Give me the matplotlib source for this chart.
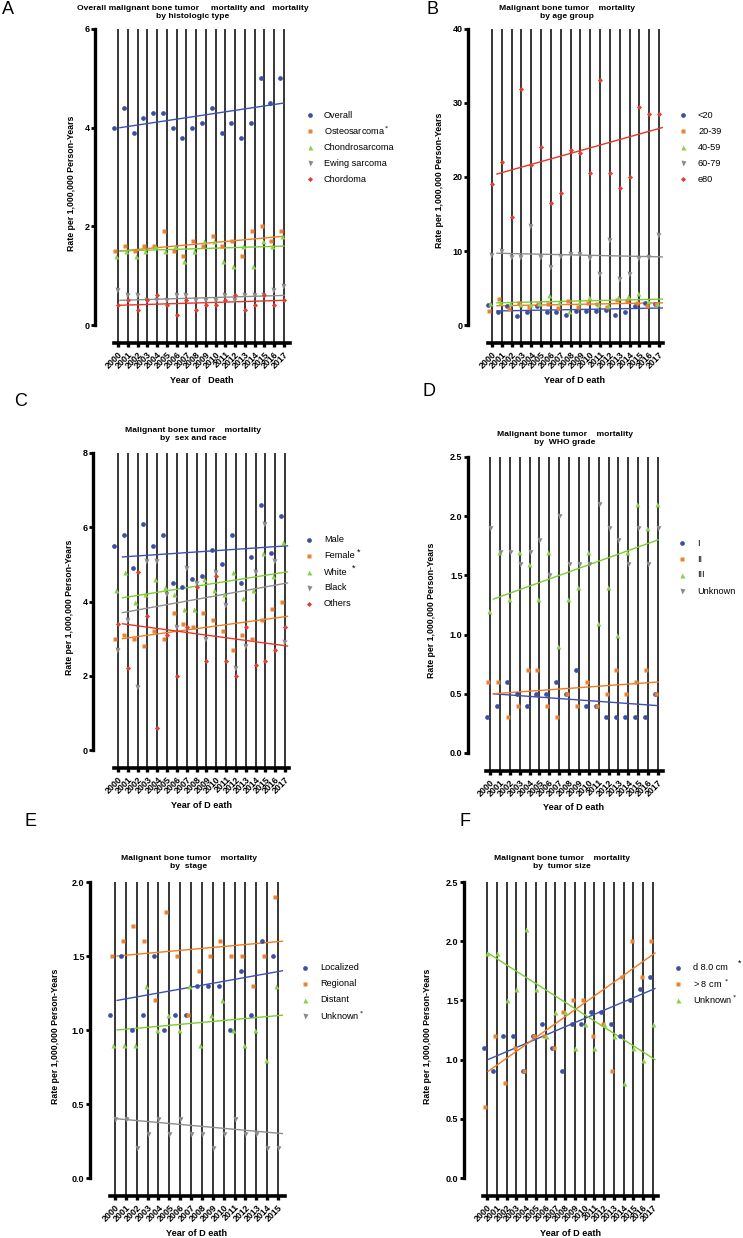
import numpy as np
import matplotlib
matplotlib.use('Agg')
import matplotlib.pyplot as plt
from matplotlib.lines import Line2D

plt.rcParams['font.family'] = ['Liberation Sans', 'DejaVu Sans']

W, H = 743, 1238

years_full = [str(y) for y in range(2000, 2018)]
years_stage = [str(y) for y in range(2000, 2016)]

# ---------------- Panel A: histologic type ----------------
a_labels = ['Overall', 'Osteosarcoma$^*$', 'Chondrosarcoma', 'Ewing sarcoma', 'Chordoma']
a_overall = [4.0, 4.4, 3.9, 4.2, 4.3, 4.3, 4.0, 3.8, 4.0, 4.1, 4.4, 3.9, 4.1, 3.8, 4.1, 5.0, 4.5, 5.0]
a_osteo = [1.5, 1.6, 1.5, 1.6, 1.6, 1.9, 1.5, 1.4, 1.7, 1.6, 1.8, 1.6, 1.7, 1.4, 1.9, 2.0, 1.7, 1.9]
a_chondro = [1.4, 1.5, 1.4, 1.5, 1.6, 1.5, 1.6, 1.3, 1.5, 1.7, 1.7, 1.3, 1.2, 1.6, 1.2, 1.7, 1.6, 1.8]
a_ewing = [0.7, 0.6, 0.6, 0.5, 0.5, 0.5, 0.6, 0.6, 0.5, 0.5, 0.5, 0.6, 0.5, 0.6, 0.6, 0.6, 0.7, 0.8]
a_chordoma = [0.4, 0.5, 0.3, 0.5, 0.6, 0.4, 0.2, 0.5, 0.3, 0.4, 0.4, 0.5, 0.6, 0.3, 0.4, 0.6, 0.4, 0.5]
a_trend_start = [4.0, 1.5, 1.5, 0.5, 0.4]
a_trend_end = [4.5, 1.8, 1.6, 0.6, 0.5]

# ---------------- Panel B: age group ----------------
b_labels = ['<20', '20-39', '40-59', '60-79', 'e80']
b_lt20 = [2.7, 1.7, 2.6, 1.2, 1.8, 2.6, 1.7, 1.8, 1.4, 1.9, 1.9, 1.9, 2.0, 1.3, 1.7, 2.6, 3.0, 2.8]
b_20_39 = [1.9, 3.5, 2.1, 3.0, 2.4, 2.8, 2.9, 2.3, 3.3, 2.4, 3.0, 2.8, 2.4, 3.4, 3.2, 3.0, 2.6, 2.9]
b_40_59 = [3.0, 3.1, 3.0, 2.9, 2.8, 3.0, 4.1, 3.1, 1.9, 3.1, 3.8, 2.8, 2.7, 3.8, 3.9, 4.3, 3.2, 3.0]
b_60_79 = [9.5, 10.0, 9.2, 9.2, 13.4, 9.2, 7.9, 9.3, 9.6, 9.6, 9.1, 6.9, 11.5, 6.2, 6.9, 9.1, 9.2, 12.2]
b_ge80 = [19.0, 22.0, 14.6, 31.9, 21.6, 24.0, 16.5, 17.8, 23.7, 23.3, 20.5, 33.1, 20.5, 18.5, 20.0, 29.5, 28.5, 28.5]
b_trend_start = [1.9, 2.6, 3.0, 9.7, 20.4]
b_trend_end = [2.3, 3.0, 3.5, 9.2, 26.7]

# ---------------- Panel C: sex and race ----------------
c_labels = ['Male', 'Female', 'White', 'Black', 'Others']
c_male = [5.5, 5.8, 4.9, 6.1, 5.5, 5.8, 4.5, 4.4, 4.6, 4.7, 5.4, 5.0, 5.8, 4.5, 5.2, 6.6, 5.3, 6.3]
c_female = [3.0, 3.1, 3.0, 2.8, 3.2, 3.0, 3.7, 3.4, 3.3, 3.7, 3.5, 3.2, 2.7, 3.1, 3.0, 3.5, 3.8, 4.0]
c_white = [4.3, 4.8, 4.0, 4.2, 4.6, 4.4, 4.2, 3.8, 3.8, 4.6, 4.3, 4.2, 4.8, 4.1, 4.3, 5.3, 4.7, 5.6]
c_black = [2.7, 3.5, 1.7, 5.1, 5.1, 4.2, 3.3, 4.9, 4.5, 3.0, 4.8, 3.9, 2.2, 2.8, 4.8, 6.1, 5.1, 2.9]
c_others = [3.4, 2.2, 4.8, 3.6, 0.6, 3.1, 2.0, 3.3, 4.4, 2.4, 4.7, 2.4, 2.0, 3.3, 2.3, 2.4, 2.7, 3.3]
c_trend_start = [5.2, 3.0, 4.1, 3.7, 3.4]
c_trend_end = [5.5, 3.6, 4.8, 4.5, 2.8]

# ---------------- Panel D: WHO grade ----------------
d_labels = ['I', 'II', 'III', 'Unknown']
d_g1 = [0.3, 0.4, 0.6, 0.5, 0.4, 0.5, 0.5, 0.6, 0.5, 0.7, 0.4, 0.4, 0.3, 0.3, 0.3, 0.3, 0.3, 0.5]
d_g2 = [0.6, 0.6, 0.3, 0.4, 0.7, 0.7, 0.4, 0.3, 0.5, 0.4, 0.6, 0.4, 0.5, 0.7, 0.5, 0.6, 0.7, 0.5]
d_g3 = [1.2, 1.7, 1.3, 1.7, 1.6, 1.3, 1.7, 0.9, 1.3, 1.4, 1.7, 1.1, 1.4, 1.0, 1.7, 2.1, 1.9, 2.1]
d_unk = [1.9, 1.7, 1.7, 1.6, 1.7, 1.8, 1.5, 2.0, 1.6, 1.6, 1.6, 2.1, 1.9, 1.8, 1.6, 1.9, 1.6, 1.9]
d_trend_start = [0.5, 0.5, 1.3, None]
d_trend_end = [0.4, 0.6, 1.8, None]

# ---------------- Panel E: stage ----------------
e_labels = ['Localized', 'Regional', 'Distant', 'Unknown$^*$']
e_loc = [1.1, 1.5, 1.0, 1.1, 1.5, 1.0, 1.1, 1.1, 1.3, 1.3, 1.3, 1.0, 1.4, 1.1, 1.6, 1.5]
e_reg = [1.5, 1.6, 1.7, 1.6, 1.2, 1.8, 1.5, 1.1, 1.4, 1.5, 1.6, 1.5, 1.5, 1.3, 1.5, 1.9]
e_dist = [0.9, 0.9, 0.9, 1.3, 1.0, 1.1, 1.0, 1.3, 0.9, 1.1, 1.2, 1.0, 0.9, 1.0, 0.8, 1.3]
e_unk = [0.4, 0.4, 0.2, 0.3, 0.4, 0.3, 0.4, 0.3, 0.3, 0.2, 0.3, 0.4, 0.3, 0.3, 0.2, 0.2]
e_trend_start = [1.2, 1.5, 1.0, 0.4]
e_trend_end = [1.4, 1.6, 1.1, 0.3]

# ---------------- Panel F: tumor size ----------------
f_labels = ['d 8.0 cm', '> 8 cm $^*$', 'Unknown$^*$']
f_small = [1.1, 0.9, 1.2, 1.2, 0.9, 1.2, 1.3, 1.1, 0.9, 1.3, 1.3, 1.4, 1.4, 1.3, 1.2, 1.5, 1.6, 1.7]
f_large = [0.6, 1.2, 0.8, 1.1, 0.9, 1.2, 1.2, 1.1, 1.4, 1.5, 1.5, 1.2, 1.3, 0.9, 1.7, 2.0, 1.7, 2.0]
f_unk = [1.9, 1.9, 1.5, 1.6, 2.1, 1.6, 1.2, 1.4, 1.4, 1.1, 1.3, 1.1, 1.3, 1.2, 0.8, 1.1, 1.0, 1.3]
f_trend_start = [1.0, 0.9, 1.9]
f_trend_end = [1.6, 1.9, 1.0]

# ---------------- styles ----------------
BLUE = '#3E4FA3'
ORANGE = '#E98234'
GREEN = '#8CD04C'
GRAY = '#8A8A8A'
RED = '#E2402F'
T_BLUE = '#3B50B5'
T_ORANGE = '#F27B1F'
T_GREEN = '#7ACF2E'
T_GRAY = '#8E8E8E'
T_RED = '#E8352A'

COLS5 = [BLUE, ORANGE, GREEN, GRAY, RED]
TCOLS5 = [T_BLUE, T_ORANGE, T_GREEN, T_GRAY, T_RED]
MARK5 = ['o', 's', '^', 'v', 'D']
MS = {'o': 3.4, 's': 3.4, '^': 3.6, 'v': 3.6, 'D': 2.6}

fig = plt.figure(figsize=(W / 100, H / 100), dpi=100)


def fx(px):
    return px / W


def fy(py):
    return 1 - py / H


def panel(g, cats, data, labels, offs, tstart, tend, trange, ymax, yticks, yfmt,
          title, title_xy, ylab_xy, xlabel, xlab_xy, leg, letter, letter_xy):
    n = len(cats)
    s = (g['x1'] - g['x0']) / (n - 1)
    xl = (g['sx'] - g['x0']) / s
    xr = (g['brx'] - g['x0']) / s
    ypu = (g['yz'] - g['yt']) / ymax
    yb = -(g['yb'] - g['yz']) / ypu
    ax = fig.add_axes([fx(g['sx']), fy(g['yb']), (g['brx'] - g['sx']) / W,
                       (g['yb'] - g['yt']) / H])
    ax.patch.set_visible(False)
    ax.set_xlim(xl, xr)
    ax.set_ylim(yb, ymax)
    idx = np.arange(n)
    ax.vlines(idx, yb, ymax, color='black', lw=1.1, zorder=1)
    for i, (vals, o) in enumerate(zip(data, offs)):
        m = MARK5[i]
        ax.plot(idx + o, vals, ls='none', marker=m, ms=MS[m], color=COLS5[i],
                mec='none', zorder=3, clip_on=False)
    for i, (a, b) in enumerate(zip(tstart, tend)):
        if a is None:
            continue
        ax.plot(trange, [a, b], color=TCOLS5[i], lw=1.0, zorder=2)
    for sp in ['top', 'right']:
        ax.spines[sp].set_visible(False)
    ax.spines['left'].set_linewidth(2.4)
    ax.spines['left'].set_bounds(0, ymax)
    ax.spines['bottom'].set_linewidth(2.6)
    ax.spines['bottom'].set_bounds(-0.45, xr)
    ax.set_yticks(yticks)
    ax.set_yticklabels([yfmt.format(v) for v in yticks], fontsize=6.5, fontweight='bold')
    ax.tick_params(axis='y', direction='out', length=3, width=2.0, pad=1)
    ax.set_xticks(idx)
    ax.set_xticklabels(cats, rotation=45, ha='right', rotation_mode='anchor',
                       fontsize=6.4, fontweight='bold')
    ax.tick_params(axis='x', direction='out', length=3, width=2.4, pad=2)
    fig.text(fx(title_xy[0]), fy(title_xy[1]), title, ha='center', va='center',
             fontsize=6.1, fontweight='bold', linespacing=1.2)
    fig.text(fx(ylab_xy[0]), fy(ylab_xy[1]), 'Rate per 1,000,000 Person-Years',
             rotation=90, ha='center', va='center', fontsize=6.3, fontweight='bold')
    fig.text(fx(xlab_xy[0]), fy(xlab_xy[1]), xlabel, ha='center', va='center',
             fontsize=6.6, fontweight='bold')
    mx, tx, y0, dy = leg
    for i, lab in enumerate(labels):
        yy = y0 + i * dy
        m = MARK5[i]
        fig.add_artist(Line2D([fx(mx)], [fy(yy)], marker=m, ms=MS[m], color=COLS5[i],
                              mec='none', ls='none', transform=fig.transFigure))
        fig.text(fx(tx), fy(yy), lab, ha='left', va='center', fontsize=6.6)
    fig.text(fx(letter_xy[0]), fy(letter_xy[1]), letter, ha='center', va='center',
             fontsize=13)
    return ax


# Panel A
panel(dict(sx=95, x0=118, x1=284, brx=290, yt=29, yz=325, yb=343),
      years_full, [a_overall, a_osteo, a_chondro, a_ewing, a_chordoma], a_labels,
      [-0.4, -0.3, -0.2, -0.1, 0.0], a_trend_start, a_trend_end, [0.2, 17.0],
      6, [0, 2, 4, 6], '{:d}',
      'Overall malignant bone tumor     mortality and   mortality\nby histologic type',
      (193, 12), (71, 183), 'Year of   Death', (202, 381),
      (310, 324, 115, 16), 'A', (8, 9))

# Panel B
panel(dict(sx=468, x0=492, x1=659, brx=663, yt=29, yz=325, yb=343),
      years_full, [b_lt20, b_20_39, b_40_59, b_60_79, b_ge80], b_labels,
      [-0.44, -0.27, -0.17, -0.1, 0.0], b_trend_start, b_trend_end, [0.5, 17.4],
      40, [0, 10, 20, 30, 40], '{:d}',
      'Malignant bone tumor    mortality\nby age group',
      (567, 12), (439, 180), 'Year of D eath', (575, 381),
      (683, 698, 115, 16), 'B', (432, 9))

# Panel C
panel(dict(sx=93, x0=118, x1=285, brx=289, yt=453, yz=750, yb=768),
      years_full, [c_male, c_female, c_white, c_black, c_others], c_labels,
      [-0.44, -0.34, -0.25, -0.1, 0.0], c_trend_start, c_trend_end, [0.45, 17.25],
      8, [0, 2, 4, 6, 8], '{:d}',
      'Malignant bone tumor    mortality\nby  sex and race',
      (193, 435), (70, 607), 'Year of D eath', (202, 806),
      (309, 324, 540, 16), 'C', (21, 402))
fig.text(fx(357), fy(552), '*', fontsize=6.5, ha='left', va='center')
fig.text(fx(352), fy(568), '*', fontsize=6.5, ha='left', va='center')

# Panel D
panel(dict(sx=468, x0=490, x1=658, brx=663, yt=457, yz=753, yb=771),
      years_full, [d_g1, d_g2, d_g3, d_unk], d_labels,
      [-0.3, -0.2, -0.1, 0.0], d_trend_start, d_trend_end, [0.35, 17.0],
      2.5, [0.0, 0.5, 1.0, 1.5, 2.0, 2.5], '{:.1f}',
      'Malignant bone tumor    mortality\nby  WHO grade',
      (565, 438), (432, 610), 'Year of D eath', (574, 808),
      (682, 697, 543, 16), 'D', (429, 391))

# Panel E
panel(dict(sx=90, x0=115, x1=278, brx=285, yt=882, yz=1178, yb=1196),
      years_stage, [e_loc, e_reg, e_dist, e_unk], e_labels,
      [-0.45, -0.3, -0.15, 0.0], e_trend_start, e_trend_end, [0.2, 15.4],
      2.0, [0.0, 0.5, 1.0, 1.5, 2.0], '{:.1f}',
      'Malignant bone tumor    mortality\nby  stage',
      (189, 863), (55, 1036), 'Year of D eath', (197, 1234),
      (305, 320, 968, 16), 'E', (31, 821))

# Panel F
panel(dict(sx=464, x0=487, x1=653, brx=658, yt=882, yz=1178, yb=1196),
      years_full, [f_small, f_large, f_unk], f_labels,
      [-0.34, -0.17, 0.0], f_trend_start, f_trend_end, [0.1, 17.2],
      2.5, [0.0, 0.5, 1.0, 1.5, 2.0, 2.5], '{:.1f}',
      'Malignant bone tumor    mortality\nby  tumor size',
      (562, 863), (428, 1036), 'Year of D eath', (571, 1234),
      (678, 693, 968, 16), 'F', (465, 821))
fig.text(fx(738), fy(963), '*', fontsize=6.5, ha='left', va='center')

fig.savefig('out.png', dpi=100)
